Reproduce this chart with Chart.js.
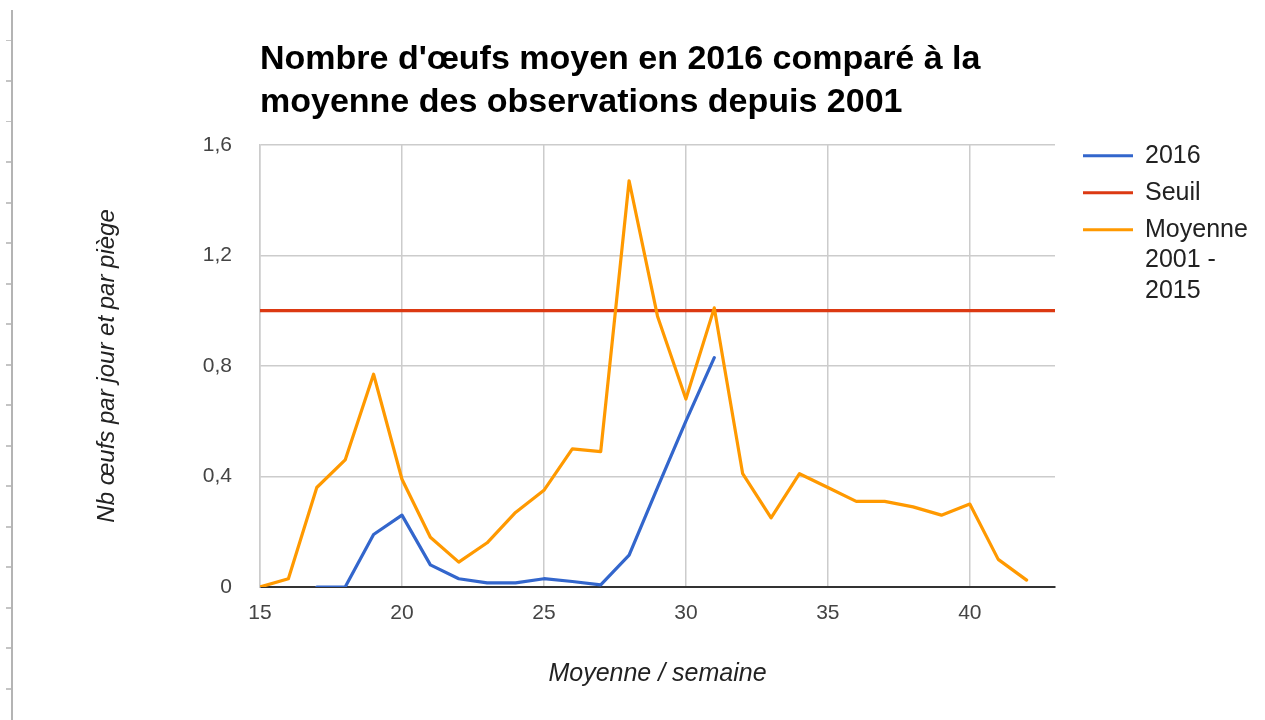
<!DOCTYPE html>
<html>
<head>
<meta charset="utf-8">
<script src="https://cdn.jsdelivr.net/npm/chart.js@4"></script>
<style>
  body { margin: 0; background: #fff; }
  #wrap { position: relative; width: 1265px; height: 720px; }
  #ruler {
    position: absolute; left: 6px; top: 10px; width: 5px; height: 710px;
    border-right: 2px solid #b4b4b4;
    background: repeating-linear-gradient(to bottom, transparent 0 30px, #c4c4c4 30px 31.5px, transparent 31.5px 40.5px);
  }
</style>
</head>
<body>
<div id="wrap">
  <div id="ruler"></div>
  <canvas id="chart" width="1265" height="720"></canvas>
</div>
<script>
const FONT = '"Liberation Sans", Arial, sans-serif';

// semaines
const weeks = [15, 16, 17, 18, 19, 20, 21, 22, 23, 24, 25, 26, 27, 28, 29, 30, 31, 32, 33, 34, 35, 36, 37, 38, 39, 40, 41, 42];
const moyenne = [0, 0.03, 0.36, 0.46, 0.77, 0.39, 0.18, 0.09, 0.16, 0.27, 0.35, 0.5, 0.49, 1.47, 0.98, 0.68, 1.01, 0.41, 0.25, 0.41, 0.36, 0.31, 0.31, 0.29, 0.26, 0.3, 0.1, 0.025];

const weeks2016 = [17, 18, 19, 20, 21, 22, 23, 24, 25, 26, 27, 28, 29, 30, 31];
const values2016 = [0, 0, 0.19, 0.26, 0.08, 0.03, 0.015, 0.015, 0.03, 0.02, 0.008, 0.115, 0.36, 0.6, 0.83];

const seuilWeeks = [15, 43];
const seuilValues = [1, 1];

const xMin = 15, xMax = 43;
const yMax = 1.6, yStep = 0.4;

function toPoints(xs, ys) {
  return xs.map((x, i) => ({ x: x, y: ys[i] }));
}

function wrapText(ctx, text, maxWidth) {
  const words = text.split(' ');
  const lines = [];
  let cur = '';
  words.forEach(w => {
    const test = cur ? cur + ' ' + w : w;
    if (cur && ctx.measureText(test).width > maxWidth) {
      lines.push(cur);
      cur = w;
    } else {
      cur = test;
    }
  });
  if (cur) lines.push(cur);
  return lines;
}

// legende a droite, style google charts
const sideLegend = {
  id: 'sideLegend',
  afterDraw(chart) {
    const { ctx, chartArea } = chart;
    const x0 = chartArea.right + 28;
    const textX = x0 + 62;
    let y = chartArea.top + 11;
    ctx.save();
    ctx.font = '25px ' + FONT;
    ctx.textBaseline = 'middle';
    ctx.textAlign = 'left';
    chart.data.datasets.forEach(ds => {
      ctx.strokeStyle = ds.borderColor;
      ctx.lineWidth = 3;
      ctx.beginPath();
      ctx.moveTo(x0, y);
      ctx.lineTo(x0 + 50, y);
      ctx.stroke();
      ctx.fillStyle = '#222';
      const lines = wrapText(ctx, ds.label, chart.width - textX - 2);
      lines.forEach((l, i) => ctx.fillText(l, textX, y + i * 30.5));
      y += (lines.length - 1) * 30.5 + 37;
    });
    ctx.restore();
  }
};

const ctx = document.getElementById('chart').getContext('2d');

new Chart(ctx, {
  type: 'line',
  data: {
    datasets: [
      {
        label: '2016',
        data: toPoints(weeks2016, values2016),
        borderColor: '#3366cc',
        borderWidth: 3.2,
        order: 2
      },
      {
        label: 'Seuil',
        data: toPoints(seuilWeeks, seuilValues),
        borderColor: '#dc3912',
        borderWidth: 3.2,
        order: 1
      },
      {
        label: 'Moyenne 2001 - 2015',
        data: toPoints(weeks, moyenne),
        borderColor: '#ff9900',
        borderWidth: 3.2,
        order: 0
      }
    ]
  },
  options: {
    responsive: false,
    animation: false,
    events: [],
    elements: {
      point: { radius: 0 },
      line: { tension: 0, borderCapStyle: 'round', borderJoinStyle: 'round' }
    },
    layout: { padding: { left: 0, right: 210, top: 0, bottom: 0 } },
    plugins: {
      legend: { display: false },
      tooltip: { enabled: false },
      title: {
        display: true,
        text: ["Nombre d'œufs moyen en 2016 comparé à la", 'moyenne des observations depuis 2001'],
        align: 'start',
        fullSize: false,
        color: '#000',
        font: { family: FONT, size: 34, weight: 'bold', lineHeight: 1.27 },
        padding: { top: 38, bottom: 20.5 }
      }
    },
    scales: {
      x: {
        type: 'linear',
        min: xMin,
        max: xMax,
        grid: { color: '#cccccc', lineWidth: 1.5, drawTicks: false },
        border: { color: '#333', width: 2 },
        ticks: {
          stepSize: 5,
          includeBounds: false,
          padding: 14,
          color: '#444',
          font: { family: FONT, size: 21 }
        },
        title: {
          display: true,
          text: 'Moyenne / semaine',
          color: '#222',
          font: { family: FONT, size: 25, style: 'italic' },
          padding: { top: 0, bottom: 31 }
        },
        afterFit(scale) { scale.height = 133; }
      },
      y: {
        min: 0,
        max: yMax,
        grid: {
          color: c => c.tick && c.tick.value === 0 ? '#333' : '#cccccc',
          lineWidth: c => c.tick && c.tick.value === 0 ? 2 : 1.5,
          drawTicks: false
        },
        border: { color: '#cccccc', width: 1.5 },
        ticks: {
          stepSize: yStep,
          padding: 28,
          color: '#444',
          font: { family: FONT, size: 21 },
          callback: v => String(+v.toFixed(1)).replace('.', ',')
        },
        title: {
          display: true,
          text: 'Nb œufs par jour et par piège',
          color: '#222',
          font: { family: FONT, size: 24, style: 'italic' },
          padding: { top: 93, bottom: 0 }
        },
        afterFit(scale) { scale.width = 260; }
      }
    }
  },
  plugins: [sideLegend]
});
</script>
</body>
</html>
